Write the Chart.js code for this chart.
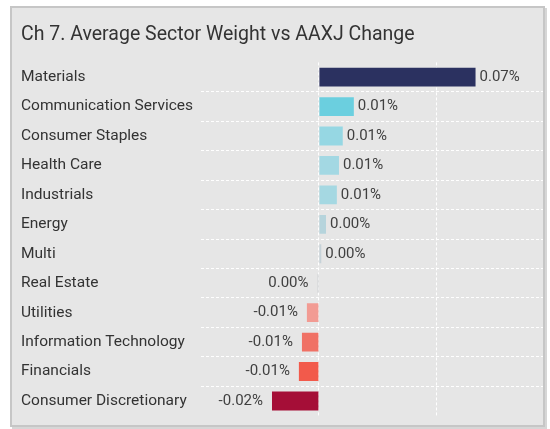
<!DOCTYPE html>
<html>
<head>
<meta charset="utf-8">
<script src="https://cdn.jsdelivr.net/npm/chart.js@4.4.1/dist/chart.umd.min.js"></script>
<style>
    html, body {
        margin: 0;
        padding: 0;
        background: #ffffff;
    }
    #card {
        position: absolute;
        left: 10px;
        top: 6px;
        width: 531px;
        height: 417px;
        background: #e6e6e6;
        border: 2px solid #c6c6c6;
        box-shadow: 2px 2px 0 #d6d6d6;
    }
    #card canvas {
        display: block;
    }
</style>
</head>
<body>
<div id="card"><canvas id="sector-chart" width="531" height="417"></canvas></div>
<script>
// Sectors, top to bottom
const sectors = [
    'Materials',
    'Communication Services',
    'Consumer Staples',
    'Health Care',
    'Industrials',
    'Energy',
    'Multi',
    'Real Estate',
    'Utilities',
    'Information Technology',
    'Financials',
    'Consumer Discretionary'
];

// Change in average sector weight (%)
const weightChange = [0.0664, 0.0148, 0.0101, 0.0085, 0.0076, 0.0030, 0.0010, -0.0006, -0.0051, -0.0072, -0.0085, -0.0199];

// Bar colours
const barColors = [
    '#2b3160', '#6bcfdf', '#96d7e3', '#a3d8e3', '#a5d8e2', '#b6d4dc',
    '#c6d2d8', '#cfd1d4', '#f29b93', '#f07165', '#f25a4b', '#a50e37'
];

const fontFamily = 'Roboto, "Open Sans", sans-serif';

// Format value as a percent label
function formatPct(v) {
    let s = v.toFixed(2);
    if (s === '-0.00') s = '0.00';
    return s + '%';
}

// Draw value labels next to each bar
const valueLabels = {
    id: 'valueLabels',
    afterDatasetsDraw(chart) {
        const ctx = chart.ctx;
        const meta = chart.getDatasetMeta(0);
        ctx.save();
        ctx.font = '15px ' + fontFamily;
        ctx.fillStyle = '#404040';
        ctx.textBaseline = 'middle';
        meta.data.forEach((bar, i) => {
            const v = weightChange[i];
            if (v >= 0) {
                ctx.textAlign = 'left';
                ctx.fillText(formatPct(v), bar.x + 4, bar.y);
            } else {
                ctx.textAlign = 'right';
                ctx.fillText(formatPct(v), bar.x - 9, bar.y);
            }
        });
        ctx.restore();
    }
};

new Chart(document.getElementById('sector-chart'), {
    type: 'bar',
    data: {
        labels: sectors,
        datasets: [{
            data: weightChange,
            backgroundColor: barColors,
            borderWidth: 0,
            barPercentage: 0.64,
            categoryPercentage: 1
        }]
    },
    options: {
        indexAxis: 'y',
        responsive: false,
        animation: false,
        layout: {
            padding: { left: 9, right: 0, top: 0, bottom: 8 }
        },
        scales: {
            x: {
                min: -0.05,
                max: 0.095,
                afterFit: (scale) => { scale.height = 0; },
                ticks: { display: false, stepSize: 0.05 },
                grid: {
                    drawTicks: false,
                    lineWidth: 1,
                    color: (c) => (c.tick && (Math.abs(c.tick.value) < 1e-9 || Math.abs(c.tick.value - 0.05) < 1e-9)) ? '#ffffff' : 'transparent'
                },
                border: { display: false, dash: [3, 2] }
            },
            y: {
                border: { display: false, dash: [3, 2] },
                afterFit: (scale) => { scale.width = 180; },
                ticks: {
                    crossAlign: 'far',
                    padding: 0,
                    color: '#333333',
                    font: { family: fontFamily, size: 15.5 }
                },
                grid: {
                    offset: true,
                    drawTicks: false,
                    color: (c) => (c.type === 'tick' && c.index > 0) ? '#ffffff' : 'transparent'
                }
            }
        },
        plugins: {
            legend: { display: false },
            tooltip: { enabled: false },
            title: {
                display: true,
                text: 'Ch 7. Average Sector Weight vs AAXJ Change',
                align: 'start',
                color: '#333333',
                font: { family: fontFamily, size: 19.5, weight: 'normal' },
                padding: { top: 15, bottom: 16 }
            }
        }
    },
    plugins: [valueLabels]
});
</script>
</body>
</html>
